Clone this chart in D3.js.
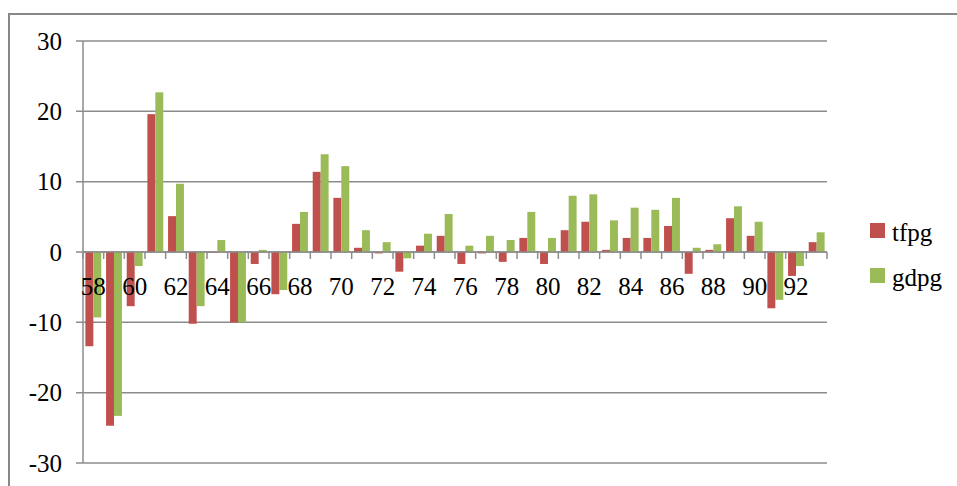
<!DOCTYPE html>
<html><head><meta charset="utf-8">
<script src="https://cdn.jsdelivr.net/npm/d3@7"></script>
<style>body{margin:0;background:#fff}svg{display:block}</style>
</head><body>
<script>
const years = ["58","59","60","61","62","63","64","65","66","67","68","69","70","71","72","73","74","75","76","77","78","79","80","81","82","83","84","85","86","87","88","89","90","91","92","93"];
const tfpg = [-13.4,-24.7,-7.7,19.6,5.1,-10.2,-0.1,-10.0,-1.7,-6.0,4.0,11.4,7.7,0.6,-0.2,-2.8,0.9,2.3,-1.7,-0.2,-1.4,2.0,-1.7,3.1,4.3,0.3,2.0,2.0,3.7,-3.1,0.3,4.8,2.3,-8.0,-3.4,1.4];
const gdpg = [-9.3,-23.3,-2.0,22.7,9.7,-7.7,1.7,-10.0,0.3,-5.4,5.7,13.9,12.2,3.1,1.4,-0.9,2.6,5.4,0.9,2.3,1.7,5.7,2.0,8.0,8.2,4.5,6.3,6.0,7.7,0.6,1.1,6.5,4.3,-6.8,-2.0,2.8];
const yTicks = [-30,-20,-10,0,10,20,30];
const seriesNames = ["tfpg","gdpg"];
const colors = ["#c0504d","#9bbb59"];

const W = 957, H = 486;
const svg = d3.select("body").append("svg").attr("width", W).attr("height", H);
const font = "'Liberation Serif','Times New Roman',serif";

// outer border
svg.append("path").attr("d", `M9,${H} V14 H${W}`).attr("fill","none").attr("stroke","#888").attr("stroke-width",2);

const L = 83, R = 827, T = 41, B = 463;
const y = d3.scaleLinear().domain([-30,30]).range([B,T]);
const x = d3.scaleBand().domain(years).range([L,R]).paddingInner(0).paddingOuter(0);
const x1 = d3.scaleBand().domain(seriesNames).range([0, x.bandwidth()]).paddingInner(0).paddingOuter(0.3);

// gridlines
svg.append("g").selectAll("line").data(yTicks).join("line")
  .attr("x1", L-7).attr("x2", R).attr("y1", d=>y(d)).attr("y2", d=>y(d))
  .attr("stroke","#8c8c8c").attr("stroke-width",1.5);
// y axis line
svg.append("line").attr("x1",L).attr("x2",L).attr("y1",T).attr("y2",B).attr("stroke","#8c8c8c").attr("stroke-width",1.5);
// y labels
svg.append("g").selectAll("text").data(yTicks).join("text")
  .attr("x", 62).attr("y", d=>y(d)).attr("dy","0.35em").attr("text-anchor","end")
  .attr("font-family",font).attr("font-size",25).attr("fill","#000").text(d=>d);

// bars
const data = [tfpg, gdpg];
seriesNames.forEach((s,si)=>{
  svg.append("g").selectAll("rect").data(years).join("rect")
    .attr("x", d=>x(d)+x1(s)).attr("width", x1.bandwidth())
    .attr("y", (d,i)=>y(Math.max(0,data[si][i])))
    .attr("height", (d,i)=>Math.abs(y(data[si][i])-y(0)))
    .attr("fill", colors[si]);
});

// x axis line and ticks
svg.append("line").attr("x1",L).attr("x2",R).attr("y1",y(0)).attr("y2",y(0)).attr("stroke","#8c8c8c").attr("stroke-width",1.5);
const bounds = years.map(d=>x(d)).concat([R]);
svg.append("g").selectAll("line").data(bounds).join("line")
  .attr("x1",d=>d).attr("x2",d=>d).attr("y1",y(0)).attr("y2",y(0)+7)
  .attr("stroke","#8c8c8c").attr("stroke-width",1.5);
// x labels
svg.append("g").selectAll("text").data(years.filter((d,i)=>i%2===0)).join("text")
  .attr("x", d=>x(d)+x.bandwidth()/2).attr("y", 295).attr("text-anchor","middle")
  .attr("font-family",font).attr("font-size",25).attr("fill","#000").text(d=>d);

// legend
const lg = svg.append("g");
seriesNames.forEach((s,i)=>{
  lg.append("rect").attr("x",870).attr("y",223+i*45).attr("width",15).attr("height",15).attr("fill",colors[i]);
  lg.append("text").attr("x",892).attr("y",241+i*45).attr("font-family",font).attr("font-size",25).attr("fill","#000").text(s);
});
</script>
</body></html>
